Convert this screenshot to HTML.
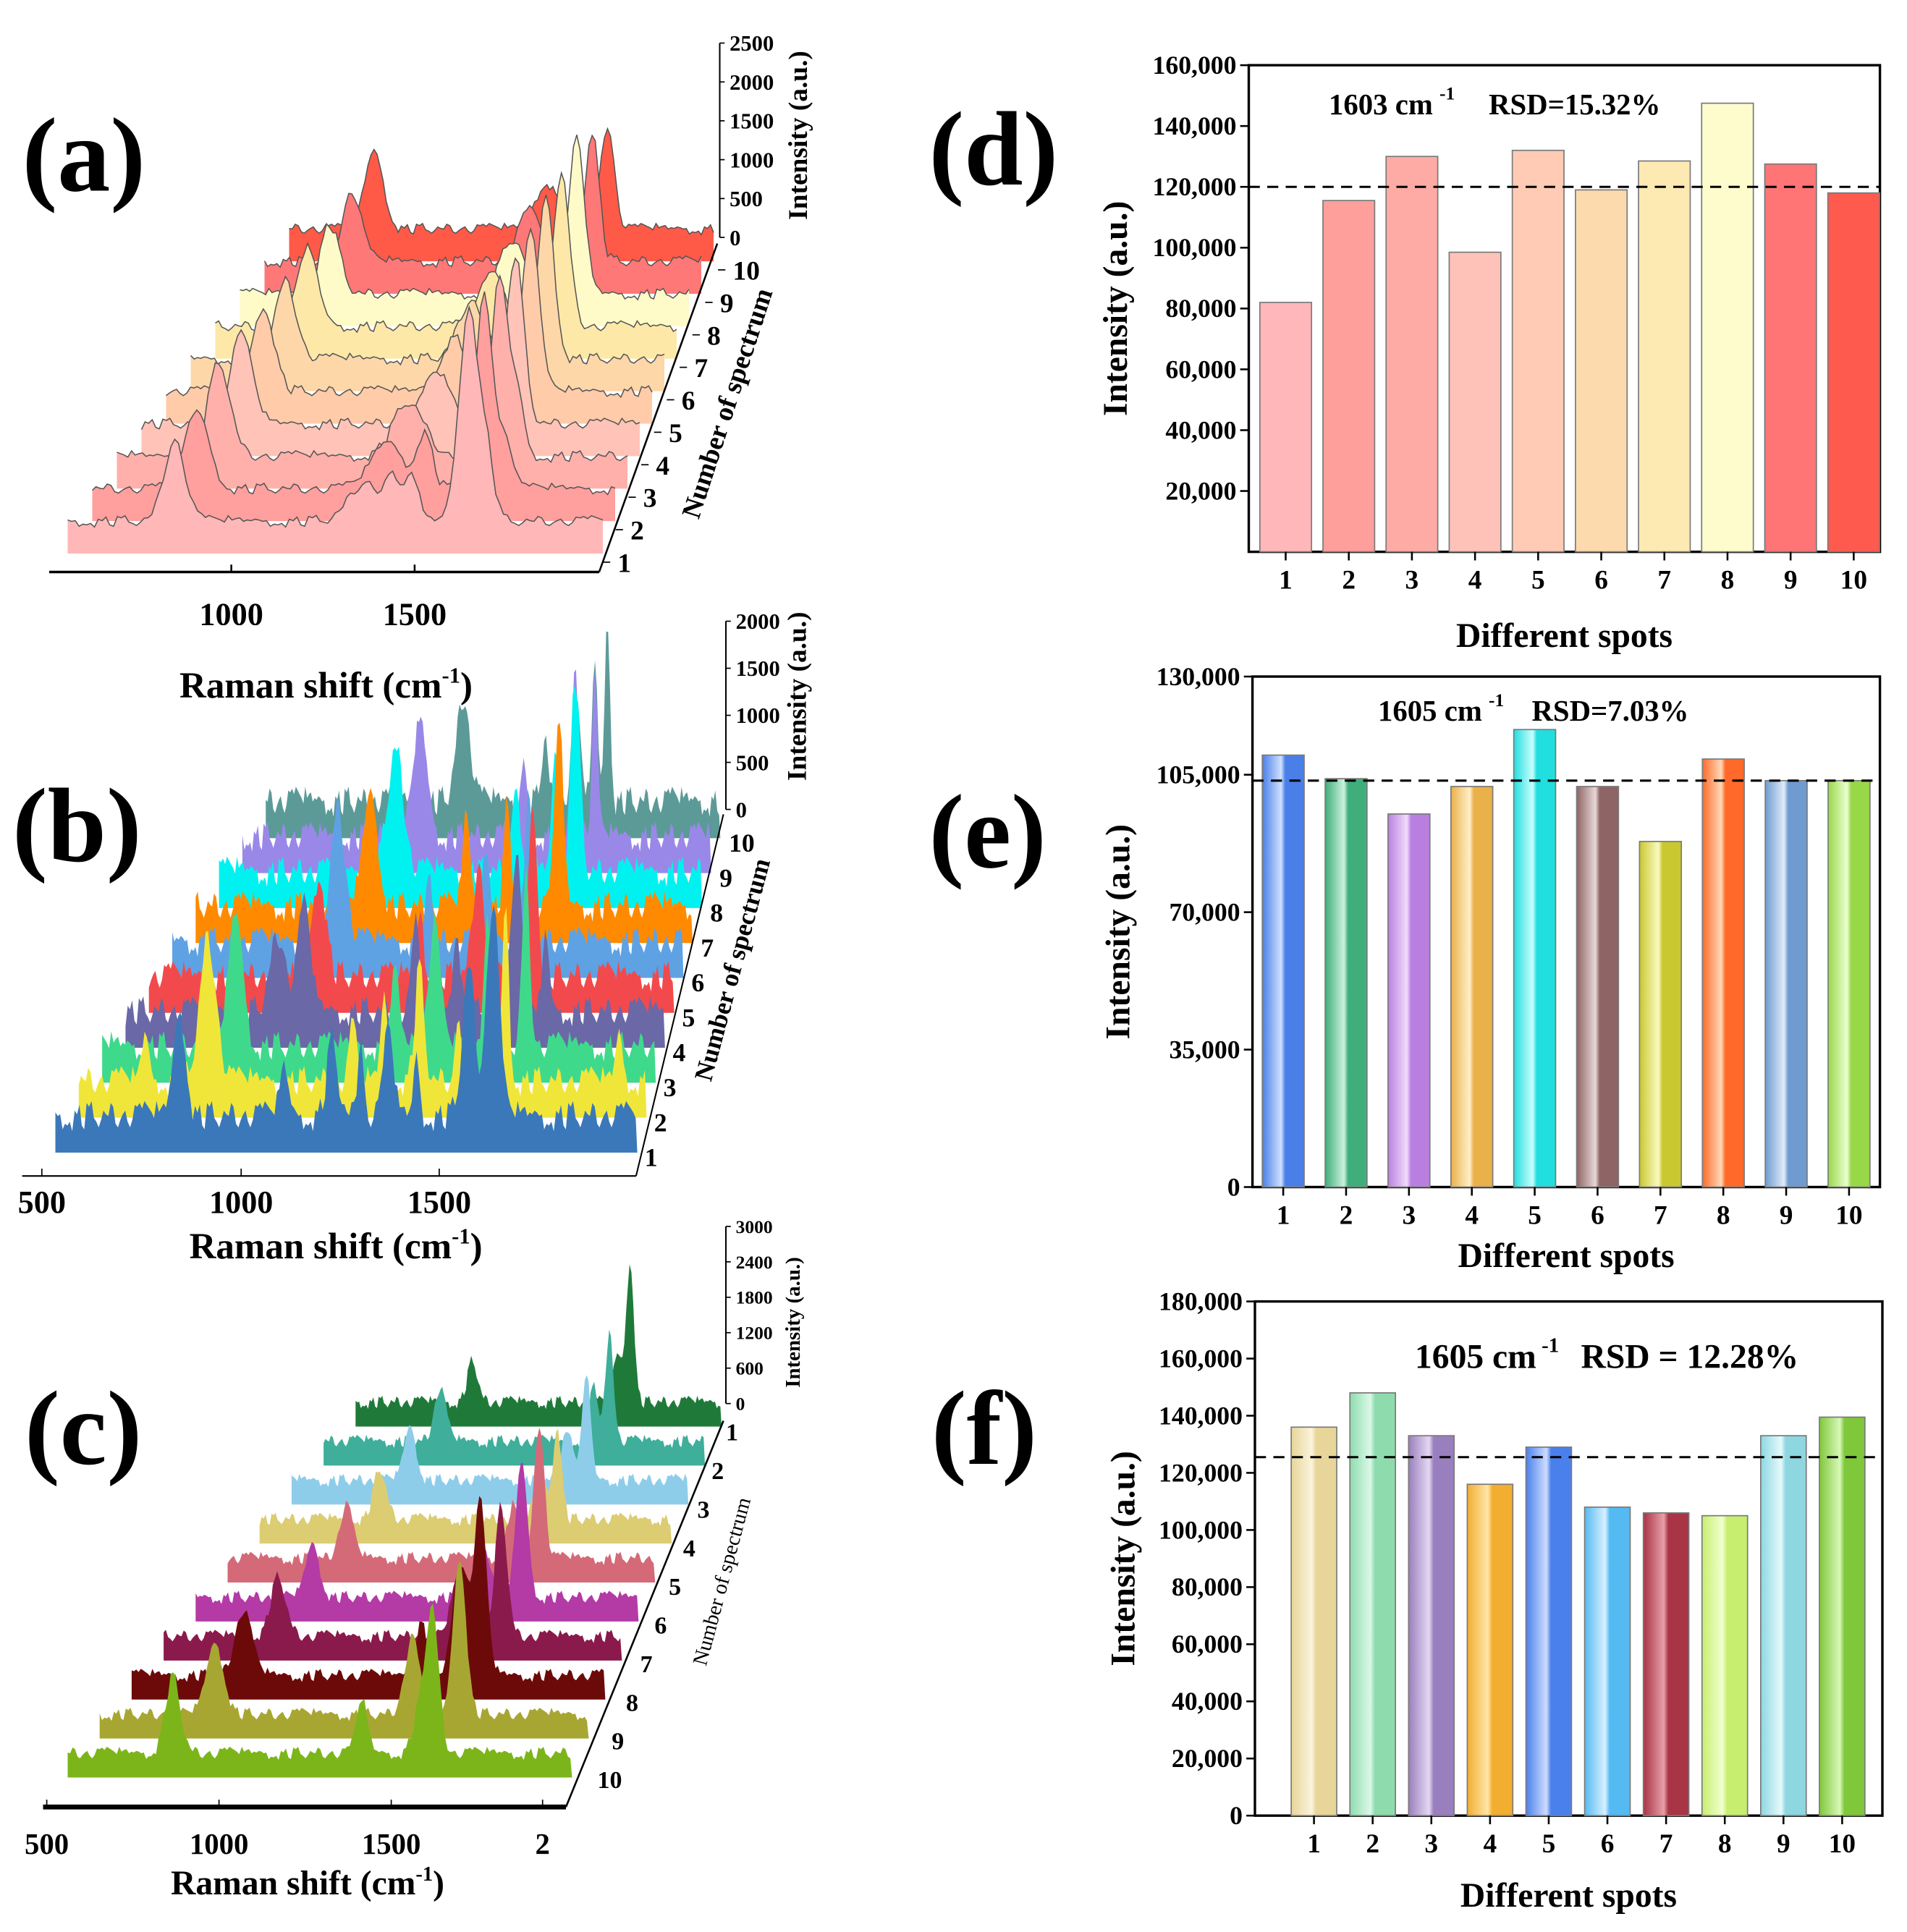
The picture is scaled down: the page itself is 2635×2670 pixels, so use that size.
<!DOCTYPE html>
<html><head><meta charset="utf-8">
<style>
html,body{margin:0;padding:0;background:#fff;}
svg{display:block;font-family:"Liberation Serif",serif;font-weight:bold;}
</style></head>
<body>
<svg id="fig" xmlns="http://www.w3.org/2000/svg" width="2635" height="2670" viewBox="0 0 1550 1570.6">
<defs id="defs"></defs>
<g id="pa"></g>
<g id="pb"></g>
<g id="pc"></g>
<g id="pd"></g>
<g id="pe"></g>
<g id="pf"></g>
</svg>
<script>
// ---------- bar chart data ----------
const spots = ['1','2','3','4','5','6','7','8','9','10'];
const dValues = [82000,115500,130000,98500,132000,119000,128500,147500,127500,118000];
const dMean = 120000;
const dTicks = [20000,40000,60000,80000,100000,120000,140000,160000];
const eValues = [110000,104000,95000,102000,116500,102000,88000,109000,103500,103500];
const eMean = 103500;
const eTicks = [0,35000,70000,105000,130000];
const fValues = [136000,148000,133000,116000,129000,108000,106000,105000,133000,139500];
const fMean = 125500;
const fTicks = [0,20000,40000,60000,80000,100000,120000,140000,160000,180000];

// ---------- spectra data (peaks: [position cm-1, height a.u., width cm-1]) ----------
const aPeaks = [
 [[830,1050,32],[1330,500,50],[1400,450,20],[1450,600,20],[1600,2800,30],[1650,700,20]],
 [[830,1000,38],[1340,600,50],[1440,700,25],[1600,2500,28],[1660,600,20]],
 [[830,1200,36],[1350,700,50],[1600,2300,28],[1650,700,20]],
 [[830,1150,36],[1380,650,45],[1600,2200,28]],
 [[830,1100,36],[1380,700,45],[1600,2150,28]],
 [[830,1000,36],[1380,750,45],[1600,2100,28]],
 [[830,1000,36],[1390,700,45],[1600,2000,28]],
 [[830,900,36],[1400,700,45],[1600,2000,28]],
 [[830,900,36],[1400,650,45],[1600,1700,26]],
 [[830,1000,36],[1400,600,45],[1600,1350,26]]
];
const bPeaks = [
 [[860,1100,18],[1120,500,12],[1240,800,16],[1310,900,8],[1380,900,14],[1450,650,8],[1580,1600,18],[1640,2300,18]],
 [[720,500,10],[880,1500,25],[1250,600,10],[1330,900,10],[1420,1200,14],[1520,800,8],[1600,1400,8],[1640,1900,10],[1930,500,10]],
 [[900,1400,22],[1320,900,12],[1420,1300,18],[1560,1500,12],[1660,1800,12]],
 [[960,800,25],[1030,1100,20],[1330,900,12],[1440,900,12],[1600,1700,16],[1680,800,10]],
 [[1020,1100,22],[1300,700,10],[1460,1200,18],[1610,1900,14]],
 [[1020,1400,25],[1280,800,10],[1440,900,14],[1560,1500,14]],
 [[1060,1200,25],[1340,1000,12],[1460,1100,12],[1610,2000,14]],
 [[1080,1300,28],[1440,1000,12],[1560,1300,12],[1620,2100,16]],
 [[1100,1200,25],[1420,800,12],[1580,1700,14],[1640,1700,10]],
 [[1180,1100,25],[1440,700,12],[1540,1000,16],[1600,1500,10],[1640,2000,10]]
];
// spectrum 1 (back) ... spectrum 10 (front)
const cPeaks = [
 [[1020,700,24],[1590,800,20],[1640,2400,18]],
 [[1000,900,26],[1580,900,22],[1640,1800,18]],
 [[990,900,26],[1560,900,22],[1630,1800,18]],
 [[980,850,26],[1540,900,22],[1600,1600,18]],
 [[960,900,26],[1520,900,22],[1610,2300,20]],
 [[940,900,26],[1500,850,22],[1620,2300,22]],
 [[920,1000,28],[1480,900,22],[1620,2200,22]],
 [[900,1100,30],[1440,900,22],[1560,1900,28],[1620,2900,22]],
 [[900,1200,30],[1480,1300,25],[1620,2700,22]],
 [[860,1300,25],[1400,900,18],[1600,2500,22],[1560,600,20]]
];
const noise = [0.3,-0.2,0.6,0.1,-0.5,0.8,0.2,-0.1,0.5,-0.6,0.4,0.9,-0.3,0.2,0.7,-0.4,0.1,0.5,-0.2,0.8,0.3,-0.7,0.6,0.0,0.4,-0.3,0.9,0.2,-0.5,0.3,0.7,-0.1,0.5,-0.4,0.2,0.6,-0.6,0.4,0.1,0.8,-0.2,0.3,0.6,-0.5,0.2,0.9,-0.1,0.4,0.0,0.7];
const aColors = ['#ffb7b7','#ff9f9e','#ffb0aa','#ffc3b8','#ffcba9','#fdd7a8','#fde8a8','#fefbc8','#ff7878','#ff5a48'];
const bColors = ['#3b78b9','#f0e63a','#3fd98c','#6a68a6','#f24a4c','#5ea2e4','#ff8a00','#00f2f0','#9a88e8','#5c9a98'];
const cColors = ['#1f7a3a','#3fae9a','#8ecdea','#dccc72','#d46a78','#b43aa6','#8a1a4c','#6c0a0a','#a8a632','#7cb51a'];
const aTicks = [0,500,1000,1500,2000,2500];
const bTicks = [0,500,1000,1500,2000];
const cTicks = [0,600,1200,1800,2400,3000];

const NS='http://www.w3.org/2000/svg';
function mk(tag, parent, attrs){const e=document.createElementNS(NS,tag);for(const k in attrs)e.setAttribute(k,attrs[k]);parent.appendChild(e);return e;}
function txt(parent, x, y, s, size, anchor, extra){const t=mk('text',parent,{x:x,y:y,'font-size':size,'text-anchor':anchor||'start'});if(extra)for(const k in extra)t.setAttribute(k,extra[k]);t.textContent=s;return t;}
function ramanTitle(g,cx,y,size){
  const t=mk('text',g,{x:cx,y:y,'font-size':size,'text-anchor':'middle'});
  
  
  const a=mk('tspan',t,{});a.textContent='Raman shift (cm';
  const b=mk('tspan',t,{dy:-size*0.4,'font-size':size*0.6});b.textContent='-1';
  const c=mk('tspan',t,{dy:size*0.4});c.textContent=')';
  return t;
}
const defs=document.getElementById('defs');

// ---------- waterfall ----------
function waterfall(g, cfg){
  const n=cfg.peaks.length;
  const order=[...Array(n).keys()].sort((a,b)=>cfg.depthOf(b)-cfg.depthOf(a));
  for(const k of order){
    const d=cfg.depthOf(k);
    const xL=cfg.left0+d*cfg.dxL, xR=cfg.right0+d*cfg.dxR, yb=cfg.y0-d*cfg.dy;
    const sx=c=>xL+(c-cfg.xmin)/(cfg.xmax-cfg.xmin)*(xR-xL);
    let pts=[];let j=0;
    for(let c=cfg.xmin;c<=cfg.xmax;c+=cfg.step){
      let h=cfg.base+cfg.noiseAmp*noise[(j*3+k*7)%noise.length];
      for(const p of cfg.peaks[k]){const z=(c-p[0])/p[2];h+=p[1]*Math.exp(-z*z*0.7);}
      if(h<0)h=0;
      pts.push([sx(c),yb-h*cfg.hs]);j++;
    }
    let dstr='M'+xL.toFixed(1)+','+(yb+cfg.band).toFixed(1);
    for(const p of pts)dstr+=' L'+p[0].toFixed(1)+','+p[1].toFixed(1);
    dstr+=' L'+xR.toFixed(1)+','+(yb+cfg.band).toFixed(1)+' Z';
    const path=mk('path',g,{d:dstr,fill:cfg.colors[k]});
    
    
    if(cfg.stroke){
      let l='M'+pts.map(p=>p[0].toFixed(1)+','+p[1].toFixed(1)).join(' L');
      const ln=mk('path',g,{d:l,fill:'none',stroke:'#555','stroke-width':0.9});
      
      
    }
  }
}
function intensityAxis(g, x, y0, y1, ticks, size, titleX, titleY, tsize){
  mk('line',g,{x1:x,y1:y0,x2:x,y2:y1,stroke:'#000','stroke-width':1.2});
  const max=ticks[ticks.length-1];
  ticks.forEach(t=>{const y=y0-(t/max)*(y0-y1);
    mk('line',g,{x1:x,y1:y,x2:x+4,y2:y,stroke:'#000','stroke-width':1});
    const tl=txt(g,x+8,y+size*0.35,String(t),size,'start');
    });
  const tt=txt(g,titleX,titleY,'Intensity (a.u.)',tsize,'middle',{transform:'rotate(-90 '+titleX+' '+titleY+')'});
  
}

// Panel a
(function(){
  const g=document.getElementById('pa');
  waterfall(g,{peaks:aPeaks,colors:aColors,depthOf:k=>k,left0:55,right0:490,dxL:20,dxR:10,y0:437,dy:26.4,band:13,xmin:550,xmax:1950,step:10,base:200,noiseAmp:90,hs:0.063,stroke:true});
  mk('line',g,{x1:40,y1:465,x2:487,y2:465,stroke:'#000','stroke-width':2});
  mk('line',g,{x1:487,y1:465,x2:583,y2:198,stroke:'#000','stroke-width':1.5});
  [[1000,188],[1500,337]].forEach(t=>{mk('line',g,{x1:t[1],y1:465,x2:t[1],y2:459,stroke:'#000','stroke-width':1.5});txt(g,t[1],508,String(t[0]),26,'middle');});
  for(let i=0;i<10;i++){const x=496+i*10.4,y=457-i*26.4;txt(g,x+6,y+8,String(i+1),22,'start');mk('line',g,{x1:x-6,y1:y,x2:x,y2:y,stroke:'#000'});}
  intensityAxis(g,585,193,35,aTicks,18,656,110,22);
  txt(g,598,330,'Number of spectrum',22,'middle',{transform:'rotate(-72 598 330)'});
  ramanTitle(g,265,567,30);
  txt(g,18,155,'(a)',86,'start');
})();
// Panel b
(function(){
  const g=document.getElementById('pb');
  waterfall(g,{peaks:bPeaks,colors:bColors,depthOf:k=>k,left0:45,right0:518,dxL:19,dxR:7.5,y0:928,dy:28.4,band:9,xmin:550,xmax:2000,step:6,base:250,noiseAmp:200,hs:0.0765,stroke:false});
  mk('line',g,{x1:18,y1:956,x2:517,y2:956,stroke:'#000','stroke-width':1.2});
  mk('line',g,{x1:517,y1:956,x2:588,y2:662,stroke:'#000','stroke-width':1.2});
  [[500,34],[1000,196],[1500,357]].forEach(t=>{mk('line',g,{x1:t[1],y1:956,x2:t[1],y2:950,stroke:'#000'});txt(g,t[1],986,String(t[0]),26,'middle');});
  for(let i=0;i<10;i++){const x=524+i*7.6,y=940-i*28.4;txt(g,x,y+8,String(i+1),21,'start');}
  intensityAxis(g,590,658,505,bTicks,18,655,566,22);
  txt(g,602,790,'Number of spectrum',21,'middle',{transform:'rotate(-75 602 790)'});
  ramanTitle(g,273,1023,30);
  txt(g,10,700,'(b)',86,'start');
})();
// Panel c
(function(){
  const g=document.getElementById('pc');
  waterfall(g,{peaks:cPeaks,colors:cColors,depthOf:k=>9-k,left0:55,right0:465,dxL:26,dxR:13.5,y0:1438,dy:31.7,band:7,xmin:560,xmax:2000,step:7,base:250,noiseAmp:140,hs:0.048,stroke:false});
  mk('line',g,{x1:35,y1:1469,x2:460,y2:1469,stroke:'#000','stroke-width':4});
  mk('line',g,{x1:460,y1:1469,x2:588,y2:1155,stroke:'#000','stroke-width':1.5});
  [[500,38],[1000,178],[1500,318],[2,441]].forEach(t=>{mk('line',g,{x1:t[1],y1:1469,x2:t[1],y2:1463,stroke:'#000'});txt(g,t[1],1507,String(t[0]),24,'middle');});
  for(let i=0;i<10;i++){const x=590-i*11.6,y=1163+i*31.4;txt(g,x,y+8,String(i+1),20,'start');}
  intensityAxis(g,590,1141,997,cTicks,15,650,1075,17);
  txt(g,592,1287,'Number of spectrum',17,'middle',{transform:'rotate(-75 592 1287)','font-weight':'normal'});
  ramanTitle(g,250,1540,28);
  txt(g,20,1190,'(c)',86,'start');
})();

// ---------- bar charts ----------
function bars(g, cfg){
  const {x0,x1,y0,y1,max,values,ticks,mean,colors,c0,step,bw,grad}=cfg;
  const sy=v=>y1-(v/max)*(y1-y0);
  mk('rect',g,{x:x0,y:y0,width:x1-x0,height:y1-y0,fill:'none',stroke:'#000','stroke-width':2});
  values.forEach((v,i)=>{
    let fill=colors[i];
    if(grad){const id=cfg.id+'g'+i;const lg=mk('linearGradient',defs,{id:id,x1:'0',x2:'1',y1:'0',y2:'0'});
      mk('stop',lg,{offset:'0','stop-color':colors[i]});mk('stop',lg,{offset:'0.45','stop-color':cfg.light[i]});mk('stop',lg,{offset:'0.55','stop-color':colors[i]});mk('stop',lg,{offset:'1','stop-color':colors[i]});
      fill='url(#'+id+')';}
    const cx=c0+i*step;
    const r=mk('rect',g,{x:cx-bw/2,y:sy(v),width:bw,height:sy(0)-sy(v),fill:fill,stroke:'#7a7a7a','stroke-width':1});
    
    
    mk('line',g,{x1:cx,y1:y1,x2:cx,y2:y1+7,stroke:'#000','stroke-width':1.5});
    const l=txt(g,cx,y1+30,spots[i],22,'middle');
    
  });
  ticks.forEach(t=>{const y=sy(t);mk('line',g,{x1:x0,y1:y,x2:x0-7,y2:y,stroke:'#000','stroke-width':1.5});
    const l=txt(g,x0-10,y+7,t.toLocaleString('en-US'),21,'end');
    });
  const m=mk('line',g,{x1:x0,y1:sy(mean),x2:x1,y2:sy(mean),stroke:'#000','stroke-width':1.8,'stroke-dasharray':'9,6'});
  
  const xt=txt(g,(x0+x1)/2,cfg.xTitleY,'Different spots',28,'middle');
  
  const yt=txt(g,cfg.yTitleX,(y0+y1)/2,'Intensity (a.u.)',28,'middle',{transform:'rotate(-90 '+cfg.yTitleX+' '+(y0+y1)/2+')'});
  
}
(function(){
  const g=document.getElementById('pd');
  bars(g,{id:'d',x0:1015,x1:1528,y0:53,y1:448.6,max:160000,values:dValues,ticks:dTicks,mean:dMean,
    colors:['#ffb7ba','#ff9f9b','#ffaba5','#ffc2b8','#ffcbb4','#fdd9ae','#fde9b2','#fefccc','#ff7474','#ff5a4e'],c0:1045,step:51.3,bw:42,xTitleY:526,yTitleX:916});
  txt(g,1080,93,'1603 cm',24,'start');txt(g,1170,81,'-1',15,'start');txt(g,1210,93,'RSD=15.32%',24,'start');
  txt(g,755,150,'(d)',86,'start');
})();
(function(){
  const g=document.getElementById('pe');
  const cols=['#4a7fe8','#3fae7a','#b97fe0','#eab04a','#22dede','#8e6464','#c9c830','#ff6a2a','#6f9bd0','#98d848'];
  const lights=['#cfe0ff','#cdf2de','#f0dcfb','#fff0c8','#c8ffff','#e8d8d8','#fafac0','#ffd8b8','#e0ecf8','#ecffcf'];
  bars(g,{id:'e',x0:1018,x1:1528,y0:550,y1:965,max:130000,values:eValues,ticks:eTicks,mean:eMean,colors:cols,light:lights,grad:true,c0:1043,step:51.1,bw:34,xTitleY:1030,yTitleX:918});
  txt(g,1120,586,'1605 cm',24,'start');txt(g,1210,574,'-1',15,'start');txt(g,1245,586,'RSD=7.03%',24,'start');
  txt(g,755,705,'(e)',86,'start');
})();
(function(){
  const g=document.getElementById('pf');
  const cols=['#e8d59a','#8edcae','#9a7fbe','#f2ae30','#4a80ec','#55baf2','#a83446','#c8ee70','#8ed6e0','#7ec83a'];
  const lights=['#fbf4dc','#dcf8e8','#e4d8f2','#ffe6a8','#cfdcff','#d8f0ff','#e8a0a8','#f2ffd0','#e4fafc','#d8f8b8'];
  bars(g,{id:'f',x0:1020,x1:1530,y0:1058,y1:1476,max:180000,values:fValues,ticks:fTicks,mean:fMean,colors:cols,light:lights,grad:true,c0:1068,step:47.7,bw:37,xTitleY:1550,yTitleX:922});
  txt(g,1150,1112,'1605 cm',28,'start');txt(g,1253,1099,'-1',17,'start');txt(g,1285,1112,'RSD = 12.28%',28,'start');
  txt(g,757,1190,'(f)',86,'start');
})();
</script>
</body></html>
